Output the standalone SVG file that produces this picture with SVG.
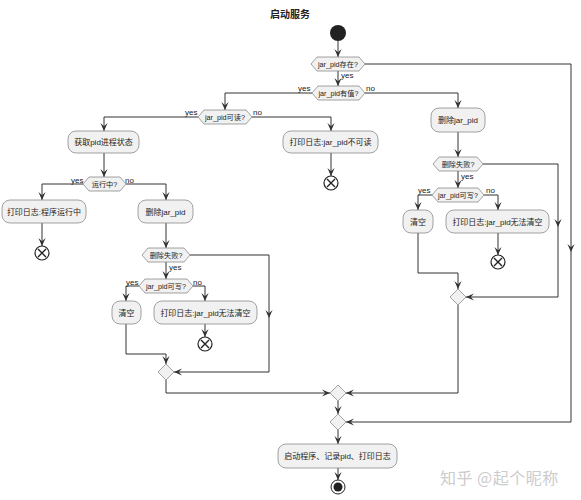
<svg xmlns="http://www.w3.org/2000/svg" width="581" height="500" viewBox="0 0 581 500">
<style>
.box{fill:#f1f1f1;stroke:#8c8c8c;stroke-width:0.8}
.hex{fill:#f1f1f1;stroke:#8c8c8c;stroke-width:0.8}
.t{font-family:"Liberation Sans","Noto Sans CJK SC",sans-serif;font-size:8px;fill:#222;text-anchor:middle}
.th{font-family:"Liberation Sans","Noto Sans CJK SC",sans-serif;font-size:7.2px;fill:#222;text-anchor:middle}
.lb{font-family:"Liberation Sans","Noto Sans CJK SC",sans-serif;font-size:8px;fill:#222}
.ln{fill:none;stroke:#333;stroke-width:1}
.ar{fill:none;stroke:#333;stroke-width:1;marker-end:url(#a)}
.x{fill:#fff;stroke:#222;stroke-width:1.2}
</style>
<defs>
<marker id="a" viewBox="0 0 10 10" refX="10" refY="5" markerWidth="8" markerHeight="8" markerUnits="userSpaceOnUse" orient="auto">
<path d="M10,5 L0,0.5 L4,5 L0,9.5 Z" fill="#333"/>
</marker>
<g id="xend"><circle r="7" class="x"/><path d="M-4,-4 L4,4 M4,-4 L-4,4" stroke="#222" stroke-width="1.4"/></g>
</defs>
<rect width="581" height="500" fill="#fff"/>
<text x="290" y="18" class="t" style="font-size:10px;font-weight:bold">启动服务</text>

<g id="connectors">
<path class="ar" d="M338,41 V57"/>
<path class="ar" d="M338,71 V86"/>
<path class="ar" d="M312,93 H225 V110"/>
<path class="ar" d="M365,93 H458 V108"/>
<path class="ar" d="M198,117 H104 V131"/>
<path class="ar" d="M252,117 H331 V131"/>
<path class="ar" d="M331,153 V176"/>
<path class="ar" d="M104,153 V177"/>
<path class="ar" d="M83,184 H42 V200"/>
<path class="ar" d="M126,184 H166 V200"/>
<path class="ar" d="M42,223 V246"/>
<path class="ar" d="M166,223 V248"/>
<path class="ar" d="M190,255 H269 V318"/>
<path class="ar" d="M269,318 V372 H174"/>
<path class="ar" d="M166,262 V279"/>
<path class="ar" d="M139,286 H126 V301"/>
<path class="ar" d="M193,286 H205 V301"/>
<path class="ar" d="M205,324 V337"/>
<path class="ar" d="M126,324 V354 H166 V364"/>
<path class="ar" d="M166,380 V393 H330"/>
<path class="ar" d="M458,132 V157"/>
<path class="ar" d="M483,164 H558 V227"/>
<path class="ar" d="M558,227 V297 H466"/>
<path class="ar" d="M458,171 V188"/>
<path class="ar" d="M432,195 H418 V210"/>
<path class="ar" d="M484,195 H498 V210"/>
<path class="ar" d="M498,233 V255"/>
<path class="ar" d="M418,233 V273 H458 V289"/>
<path class="ar" d="M458,305 V393 H346"/>
<path class="ar" d="M365,64 H571 V252"/>
<path class="ar" d="M571,252 V422 H346"/>
<path class="ar" d="M338,401 V414"/>
<path class="ar" d="M338,430 V444"/>
<path class="ar" d="M338,468 V480"/>
<text x="341" y="78" class="lb">yes</text>
<text x="298" y="91" class="lb">yes</text>
<text x="366" y="91" class="lb">no</text>
<text x="185" y="115" class="lb">yes</text>
<text x="253" y="115" class="lb">no</text>
<text x="71" y="183" class="lb">yes</text>
<text x="125" y="183" class="lb">no</text>
<text x="169" y="270" class="lb">yes</text>
<text x="126" y="285" class="lb">yes</text>
<text x="193" y="285" class="lb">no</text>
<text x="461" y="179" class="lb">yes</text>
<text x="418" y="193" class="lb">yes</text>
<text x="486" y="193" class="lb">no</text>
</g>

<g id="start"><circle cx="338" cy="33" r="8" fill="#222"/></g>

<g id="d_exists"><polygon class="hex" points="317,57 359,57 365,64 359,71 317,71 311,64"/><text x="338" y="66.6" class="th">jar_pid存在?</text></g>
<g id="d_hasval"><polygon class="hex" points="318,86 359,86 365,93 359,100 318,100 312,93"/><text x="338.5" y="95.6" class="th">jar_pid有值?</text></g>
<g id="d_readable"><polygon class="hex" points="204,110 246,110 252,117 246,124 204,124 198,117"/><text x="225" y="119.6" class="th">jar_pid可读?</text></g>

<g id="n_getstatus"><rect class="box" x="68" y="131" width="71" height="22" rx="8"/><text x="103.5" y="145" class="t">获取pid进程状态</text></g>
<g id="n_unreadable"><rect class="box" x="283" y="131" width="95" height="22" rx="8"/><text x="330.5" y="145" class="t">打印日志:jar_pid不可读</text></g>
<g id="e_unreadable"><use href="#xend" x="331" y="183"/></g>

<g id="d_running"><polygon class="hex" points="89,177 120,177 126,184 120,191 89,191 83,184"/><text x="104.5" y="186.6" class="th">运行中?</text></g>
<g id="n_running"><rect class="box" x="2" y="200" width="84" height="23" rx="8"/><text x="44" y="214.5" class="t">打印日志:程序运行中</text></g>
<g id="e_running"><use href="#xend" x="42" y="253"/></g>
<g id="n_del1"><rect class="box" x="138" y="200" width="55" height="23" rx="8"/><text x="165.5" y="214.5" class="t">删除jar_pid</text></g>
<g id="d_delfail1"><polygon class="hex" points="148,248 184,248 190,255 184,262 148,262 142,255"/><text x="166" y="257.6" class="th">删除失败?</text></g>
<g id="d_writable1"><polygon class="hex" points="145,279 187,279 193,286 187,293 145,293 139,286"/><text x="166" y="288.6" class="th">jar_pid可写?</text></g>
<g id="n_clear1"><rect class="box" x="112" y="301" width="29" height="23" rx="8"/><text x="126.5" y="315.5" class="t">清空</text></g>
<g id="n_cantclear1"><rect class="box" x="154" y="301" width="103" height="23" rx="8"/><text x="205.5" y="315.5" class="t">打印日志:jar_pid无法清空</text></g>
<g id="e_cantclear1"><use href="#xend" x="205" y="344"/></g>
<g id="m_1"><polygon class="hex" points="166,364 174,372 166,380 158,372"/></g>

<g id="n_del2"><rect class="box" x="431" y="108" width="54" height="24" rx="8"/><text x="458" y="123" class="t">删除jar_pid</text></g>
<g id="d_delfail2"><polygon class="hex" points="439,157 477,157 483,164 477,171 439,171 433,164"/><text x="458" y="166.6" class="th">删除失败?</text></g>
<g id="d_writable2"><polygon class="hex" points="438,188 478,188 484,195 478,202 438,202 432,195"/><text x="458" y="197.6" class="th">jar_pid可写?</text></g>
<g id="n_clear2"><rect class="box" x="403" y="210" width="30" height="23" rx="8"/><text x="418" y="224.5" class="t">清空</text></g>
<g id="n_cantclear2"><rect class="box" x="446" y="210" width="103" height="23" rx="8"/><text x="497.5" y="224.5" class="t">打印日志:jar_pid无法清空</text></g>
<g id="e_cantclear2"><use href="#xend" x="498" y="262"/></g>
<g id="m_2"><polygon class="hex" points="458,289 466,297 458,305 450,297"/></g>

<g id="m_3"><polygon class="hex" points="338,385 346,393 338,401 330,393"/></g>
<g id="m_4"><polygon class="hex" points="338,414 346,422 338,430 330,422"/></g>
<g id="n_start"><rect class="box" x="278" y="444" width="119" height="24" rx="8"/><text x="337.5" y="459" class="t">启动程序、记录pid、打印日志</text></g>
<g id="end"><circle cx="338" cy="487" r="7" fill="#fff" stroke="#222" stroke-width="1"/><circle cx="338" cy="487" r="4.5" fill="#222"/></g>

<text x="440" y="484" style="font-family:'Noto Sans CJK SC',sans-serif;font-size:16px;fill:#cccccc;letter-spacing:0.5px">知乎 @起个昵称</text>
</svg>
